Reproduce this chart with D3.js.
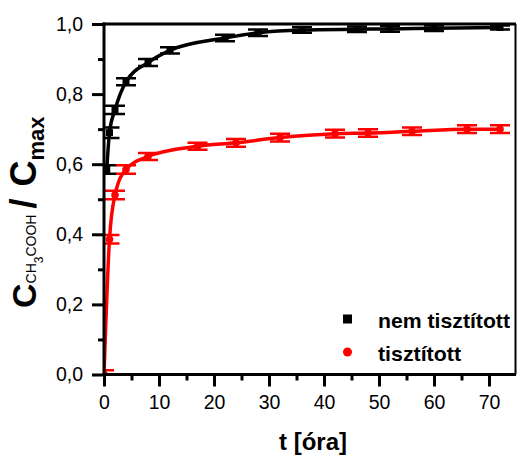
<!DOCTYPE html>
<html><head><meta charset="utf-8">
<script src="https://cdn.jsdelivr.net/npm/d3@7"></script>
<style>body{margin:0;background:#fff}svg{display:block}</style>
</head><body>
<svg id="c" width="517" height="456"></svg>
<script>
// ---- data ----
const tBlack = [0.5, 1, 2, 4, 8, 12, 22, 28, 36, 46, 52, 60, 72];
const vBlack = [0.585, 0.69, 0.755, 0.835, 0.89, 0.925, 0.96, 0.975, 0.983, 0.985, 0.986, 0.988, 0.99];
const eBlack = [0.012, 0.015, 0.012, 0.01, 0.01, 0.009, 0.009, 0.009, 0.008, 0.008, 0.008, 0.008, 0.006];
const tRed = [0, 1, 2, 4, 8, 17, 24, 32, 42, 48, 56, 66, 72];
const vRed = [0.0, 0.386, 0.512, 0.585, 0.622, 0.651, 0.661, 0.676, 0.687, 0.689, 0.694, 0.70, 0.70];
const eRed = [0.012, 0.012, 0.012, 0.012, 0.01, 0.01, 0.011, 0.011, 0.011, 0.011, 0.011, 0.011, 0.011];
const xTicks = [0, 10, 20, 30, 40, 50, 60, 70];
const yTicks = [0, 0.2, 0.4, 0.6, 0.8, 1.0];
const legendLabels = ["nem tisztított", "tisztított"];

const svg = d3.select("#c");
const x = d3.scaleLinear().domain([0, 75]).range([104, 516.5]);
const y = d3.scaleLinear().domain([0, 1]).range([374.5, 24]);
const FONT = "'Liberation Sans', Arial, sans-serif";

svg.append("defs").append("clipPath").attr("id", "plot")
  .append("rect").attr("x", x(0)).attr("y", y(1) - 2).attr("width", 516 - x(0)).attr("height", y(0) - y(1) + 2);

function series(ts, vs, es, color, marker) {
  const data = ts.map((t, i) => ({t, v: vs[i], e: es[i]}));
  const g = svg.append("g").attr("clip-path", "url(#plot)");
  g.append("path").datum(data)
    .attr("d", d3.line().x(d => x(d.t)).y(d => y(d.v)).curve(d3.curveMonotoneX))
    .attr("fill", "none").attr("stroke", color).attr("stroke-width", 3.5);
  const eb = g.selectAll(".eb").data(data).enter().append("g");
  eb.append("line").attr("x1", d => x(d.t)).attr("x2", d => x(d.t))
    .attr("y1", d => y(d.v - d.e)).attr("y2", d => y(d.v + d.e)).attr("stroke", color).attr("stroke-width", 2.5);
  [-1, 1].forEach(s => eb.append("line").attr("x1", d => x(d.t) - 10).attr("x2", d => x(d.t) + 10)
    .attr("y1", d => y(d.v + s * d.e)).attr("y2", d => y(d.v + s * d.e)).attr("stroke", color).attr("stroke-width", 2.5));
  if (marker === "square") {
    g.selectAll(".m").data(data).enter().append("rect")
      .attr("x", d => x(d.t) - 3.5).attr("y", d => y(d.v) - 3.5).attr("width", 7).attr("height", 7).attr("fill", color);
  } else {
    g.selectAll(".m").data(data).enter().append("circle")
      .attr("cx", d => x(d.t)).attr("cy", d => y(d.v)).attr("r", 3.8).attr("fill", color);
  }
}
series(tBlack, vBlack, eBlack, "#000", "square");
series(tRed, vRed, eRed, "#ff0000", "circle");

// axes
const xAxis = svg.append("g").attr("transform", `translate(0,${y(0)})`)
  .call(d3.axisBottom(x).tickValues(xTicks).tickSize(12).tickPadding(9).tickFormat(d3.format("d")));
const xMinor = svg.append("g").attr("transform", `translate(0,${y(0)})`)
  .call(d3.axisBottom(x).tickValues(d3.range(5, 75, 10)).tickSize(6).tickFormat(""));
const yAxis = svg.append("g").attr("transform", `translate(${x(0)},0)`)
  .call(d3.axisLeft(y).tickValues(yTicks).tickSize(12).tickPadding(9).tickFormat(d => d3.format(".1f")(d).replace(".", ",")));
const yMinor = svg.append("g").attr("transform", `translate(${x(0)},0)`)
  .call(d3.axisLeft(y).tickValues([0.1, 0.3, 0.5, 0.7, 0.9]).tickSize(6).tickFormat(""));
[xAxis, xMinor, yAxis, yMinor].forEach(g => {
  g.select(".domain").remove();
  g.selectAll(".tick line").attr("stroke", "#000").attr("stroke-width", 3);
  g.selectAll("text").attr("font-family", FONT).attr("font-size", 19.5).attr("fill", "#000");
});

// frame
svg.append("line").attr("x1", x(0) - 1.5).attr("x2", 516).attr("y1", y(0)).attr("y2", y(0)).attr("stroke", "#000").attr("stroke-width", 3);
svg.append("line").attr("x1", x(0)).attr("x2", x(0)).attr("y1", y(0) + 1.5).attr("y2", y(1) - 1.5).attr("stroke", "#000").attr("stroke-width", 3);
svg.append("line").attr("x1", x(0) - 1.5).attr("x2", 516).attr("y1", y(1)).attr("y2", y(1)).attr("stroke", "#000").attr("stroke-width", 3);
svg.append("line").attr("x1", 515.5).attr("x2", 515.5).attr("y1", y(1)).attr("y2", y(0)).attr("stroke", "#000").attr("stroke-width", 2);

// legend
svg.append("rect").attr("x", 343).attr("y", 314.5).attr("width", 9).attr("height", 9).attr("fill", "#000");
svg.append("circle").attr("cx", 347.5).attr("cy", 352).attr("r", 4.5).attr("fill", "#ff0000");
svg.append("text").attr("x", 378).attr("y", 328).text(legendLabels[0])
  .attr("font-family", FONT).attr("font-weight", "bold").attr("font-size", 21)
  .attr("textLength", 132).attr("lengthAdjust", "spacingAndGlyphs");
svg.append("text").attr("x", 378).attr("y", 361).text(legendLabels[1])
  .attr("font-family", FONT).attr("font-weight", "bold").attr("font-size", 21)
  .attr("textLength", 83).attr("lengthAdjust", "spacingAndGlyphs");

// x title
svg.append("text").attr("x", 313).attr("y", 450).attr("text-anchor", "middle")
  .attr("font-family", FONT).attr("font-weight", "bold").attr("font-size", 24).text("t [óra]");

// y title
const yt = svg.append("text").attr("transform", "translate(36,308) rotate(-90)")
  .attr("font-family", FONT).attr("font-weight", "bold").attr("fill", "#000");
yt.append("tspan").attr("font-size", 34).text("C");
yt.append("tspan").attr("font-size", 14).attr("font-weight", "normal").text("CH");
yt.append("tspan").attr("font-size", 12).attr("font-weight", "normal").attr("dy", 7).text("3");
yt.append("tspan").attr("font-size", 14).attr("font-weight", "normal").attr("dy", -7).text("COOH");
yt.append("tspan").attr("font-size", 36).attr("dx", 6).text("/");
yt.append("tspan").attr("font-size", 36).attr("dx", 12).text("C");
yt.append("tspan").attr("font-size", 22).attr("dy", 8).text("max");
</script>
</body></html>
